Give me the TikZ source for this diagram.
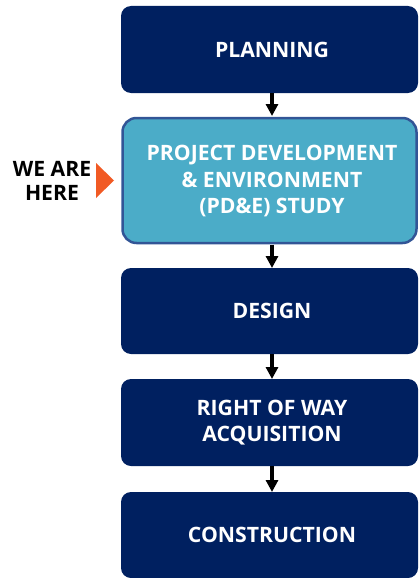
\documentclass[tikz,border=0pt]{standalone}
\usepackage{fontspec}
\setmainfont{Open Sans}
\usetikzlibrary{arrows.meta}
\definecolor{navy}{RGB}{0,32,96}
\definecolor{lightblue}{RGB}{75,172,200}
\definecolor{edgeblue}{RGB}{50,85,150}
\definecolor{arroworange}{RGB}{241,90,36}
\begin{document}
\begin{tikzpicture}[x=1pt,y=-1pt,
  stage/.style={fill=navy,rounded corners=10pt},
  current/.style={fill=lightblue,draw=edgeblue,line width=2.5pt,rounded corners=14pt},
  lbl/.style={text=white,font=\fontsize{21.2}{26.7}\selectfont\bfseries,align=center,inner sep=0pt},
  flow/.style={line width=4pt,-{Triangle[length=12pt,width=12pt]}},
]
\useasboundingbox (0,0) rectangle (418,578);
% boxes
\fill[stage] (121,6) rectangle (418,93);
\draw[current] (122.5,118) rectangle (416.5,243);
\fill[stage] (121,268) rectangle (418,354);
\fill[stage] (121,379) rectangle (418,466);
\fill[stage] (121,492) rectangle (418,578);
% labels
\node[lbl] (plan) at (272,49.5) {PLANNING};
\node[lbl] (pde) at (272,181) {PROJECT DEVELOPMENT\\\& ENVIRONMENT\\(PD\&E) STUDY};
\node[lbl] (des) at (272,311) {DESIGN};
\node[lbl] (row) at (272,422.5) {RIGHT OF WAY\\ACQUISITION};
\node[lbl] (con) at (272,535) {CONSTRUCTION};
% connector anchors
\coordinate (a1) at (272,93); \coordinate (b1) at (272,116);
\coordinate (a2) at (272,244.5); \coordinate (b2) at (272,268);
\coordinate (a3) at (272,354); \coordinate (b3) at (272,379);
\coordinate (a4) at (272,466); \coordinate (b4) at (272,492);
\draw[flow] (a1) -- (b1);
\draw[flow] (a2) -- (b2);
\draw[flow] (a3) -- (b3);
\draw[flow] (a4) -- (b4);
% we are here
\node[font=\fontsize{21.2}{24}\selectfont\bfseries,align=center,inner sep=0pt] (here) at (52,181) {WE ARE\\HERE};
\fill[arroworange] (96,163) -- (114,180.5) -- (96,198) -- cycle;
\end{tikzpicture}
\end{document}
